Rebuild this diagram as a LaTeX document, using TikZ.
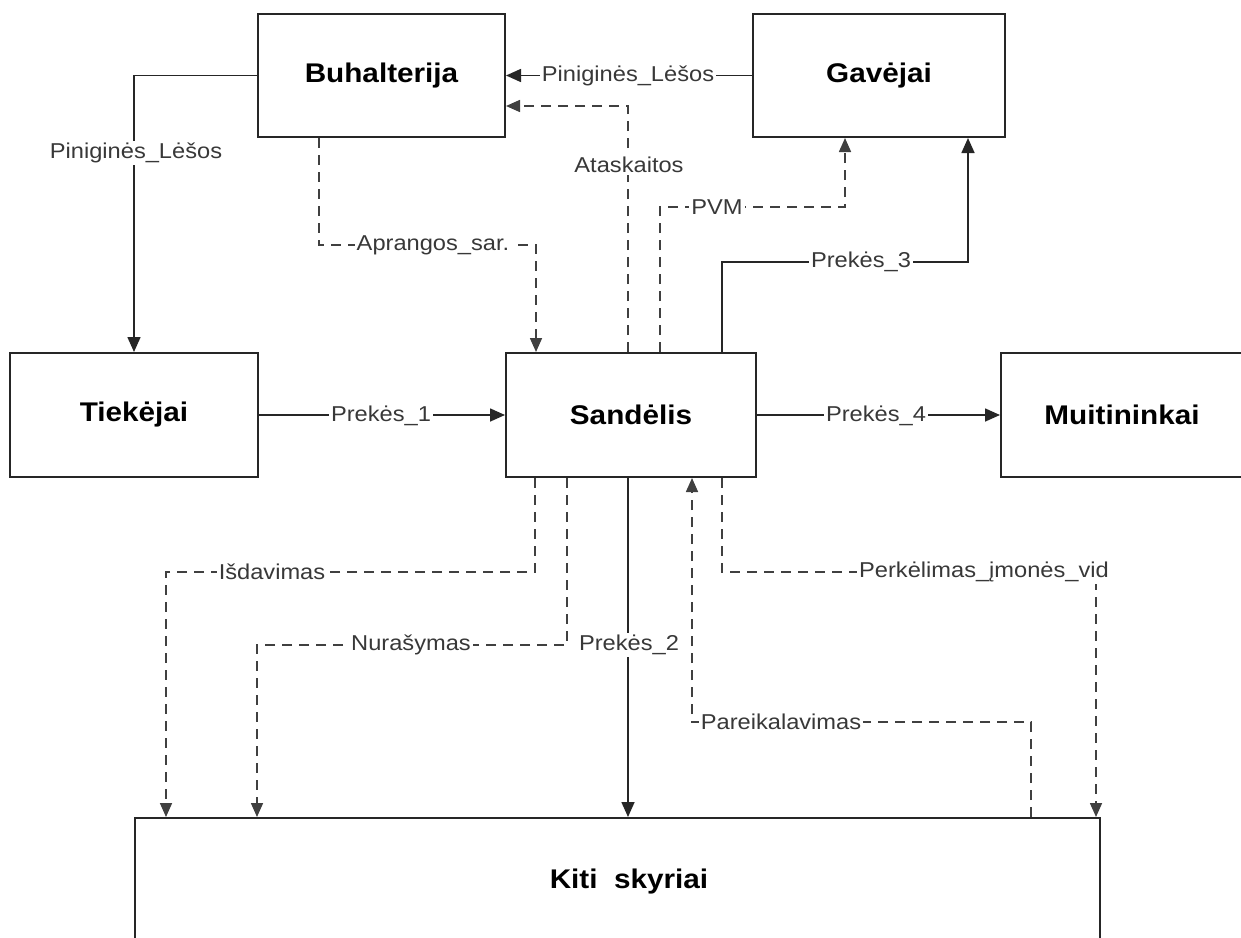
\documentclass[tikz,border=0pt]{standalone}
\usepackage{fontspec}
\setmainfont{Liberation Sans}
\newfontfamily\widesans[FakeStretch=1.1]{Liberation Sans}
\usetikzlibrary{arrows.meta,calc}
\begin{document}
\begin{tikzpicture}[x=1pt,y=-1pt,
  box/.style={draw=black!85, line width=2pt, fill=white, inner sep=0pt,
    font=\widesans\fontsize{27}{31}\selectfont\bfseries},
  boxtext/.style={inner sep=0pt, font=\widesans\fontsize{27}{31}\selectfont\bfseries},
  lbl/.style={fill=white, inner sep=2pt, text=black!78,
    font=\widesans\fontsize{21.5}{24}\selectfont},
  flow/.style={draw=black!85, line width=1.6pt,
    -{Triangle[length=15pt,width=13pt]}},
  dflow/.style={draw=black!75, line width=1.6pt, dash pattern=on 10pt off 7pt,
    -{Triangle[length=14pt,width=12pt]}},
]
\clip (0,0) rectangle (1241,937);
\fill[white] (0,0) rectangle (1241,937);

% entities
\node[box, minimum width=247pt, minimum height=123pt] (buh) at (381.5,75.5) {Buhalterija};
\node[box, minimum width=252pt, minimum height=123pt] (gav) at (879,75.5) {Gavėjai};
\node[box, minimum width=248pt, minimum height=124pt] (tie) at (134,415) {Tiekėjai};
\node[box, minimum width=250pt, minimum height=124pt] (san) at (631,415) {Sandėlis};
\node[box, minimum width=242pt, minimum height=124pt] (mui) at (1122,415) {Muitininkai};
\node[box, minimum width=965pt, minimum height=128pt] (kit) at (617.5,882) {};
\node[boxtext] (kittxt) at (629,882) {Kiti\ \ skyriai};

% attachment points on the boxes
\coordinate (sApr) at ($(san.north west)+(31,0)$);
\coordinate (sAta) at ($(san.north west)+(123,0)$);
\coordinate (sPvm) at ($(san.north west)+(155,0)$);
\coordinate (sPr3) at ($(san.north west)+(217,0)$);
\coordinate (sIsd) at ($(san.south west)+(30,0)$);
\coordinate (sNur) at ($(san.south west)+(62,0)$);
\coordinate (sPr2) at ($(san.south west)+(123,0)$);
\coordinate (sPar) at ($(san.south west)+(187,0)$);
\coordinate (sPer) at ($(san.south west)+(217,0)$);
\coordinate (bApr) at ($(buh.south west)+(62,0)$);
\coordinate (bAta) at ($(buh.north east)+(0,93)$);
\coordinate (gPvm) at ($(gav.south west)+(93,0)$);
\coordinate (gPr3) at ($(gav.south west)+(216,0)$);
\coordinate (kIsd) at ($(kit.north west)+(32,0)$);
\coordinate (kNur) at ($(kit.north west)+(123,0)$);
\coordinate (kPar) at ($(kit.north west)+(897,0)$);
\coordinate (kPer) at ($(kit.north west)+(962,0)$);

% flows
\draw[flow] (buh.west) -| (tie.north);
\node[lbl] (l1) at (136,153) {Piniginės\_Lėšos};

\draw[flow] (gav.west) -- (buh.east);
\node[lbl] (l2) at (628,76) {Piniginės\_Lėšos};

\draw[dflow] (bApr) -- (bApr |- 0,245) -| (sApr);
\node[lbl] (l3) at (433,245) {Aprangos\_sar.};

\draw[dflow] (sAta) |- (bAta);
\node[lbl] (l4) at (629,165) {Ataskaitos};

\draw[dflow] (sPvm) -- (sPvm |- 0,207) -| (gPvm);
\node[lbl] (l5) at (717,207) {PVM};

\draw[flow] (sPr3) -- (sPr3 |- 0,262) -| (gPr3);
\node[lbl] (l6) at (861,262) {Prekės\_3};

\draw[flow] (tie.east) -- (san.west);
\node[lbl] (l7) at (381,416) {Prekės\_1};

\draw[flow] (san.east) -- (mui.west);
\node[lbl] (l8) at (876,416) {Prekės\_4};

\draw[dflow] (sIsd) -- (sIsd |- 0,572) -| (kIsd);
\node[lbl] (l9) at (272,572) {Išdavimas};

\draw[dflow] (sNur) -- (sNur |- 0,645) -| (kNur);
\node[lbl] (l10) at (411,645) {Nurašymas};

\draw[flow] (sPr2) -- (sPr2 |- kit.north);
\node[lbl] (l11) at (629,645) {Prekės\_2};

\draw[dflow] (kPar) -- (kPar |- 0,722) -| (sPar);
\node[lbl] (l12) at (781,722) {Pareikalavimas};

\draw[dflow] (sPer) -- (sPer |- 0,572) -| (kPer);
\node[lbl] (l13) at (984,572) {Perkėlimas\_įmonės\_vid};
\end{tikzpicture}
\end{document}
